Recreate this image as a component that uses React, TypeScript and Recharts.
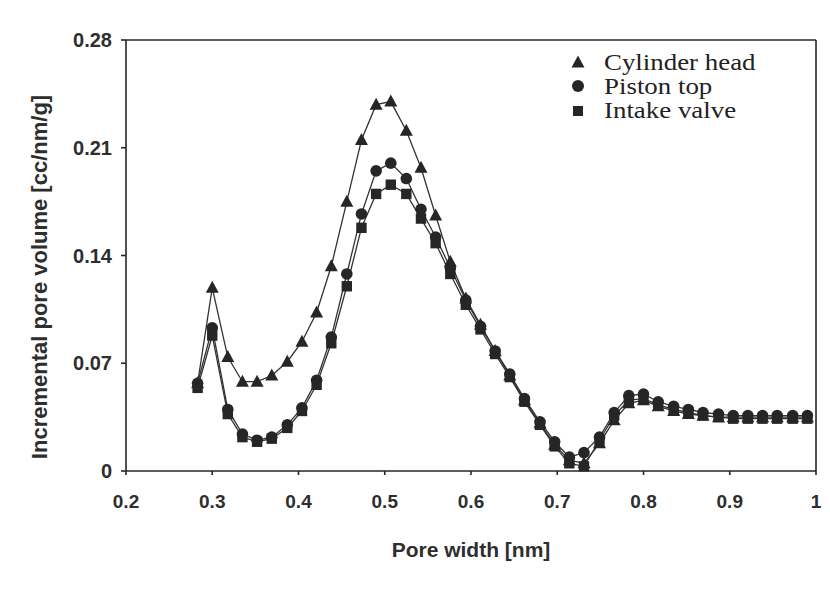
import React from "react";
import {
  LineChart,
  Line,
  XAxis,
  YAxis,
  ReferenceLine,
  Label,
} from "recharts";

// pore widths (nm), shared by all three samples
const poreWidth = [
  0.283, 0.3, 0.318, 0.335, 0.352, 0.369, 0.387, 0.404, 0.421, 0.438, 0.456,
  0.473, 0.49, 0.507, 0.525, 0.542, 0.559, 0.576, 0.594, 0.611, 0.628, 0.645,
  0.662, 0.68, 0.697, 0.714, 0.731, 0.749, 0.766, 0.783, 0.8, 0.817, 0.835,
  0.852, 0.869, 0.887, 0.904, 0.921, 0.938, 0.955, 0.973, 0.99,
];

const cylinderHead = [
  0.057, 0.119, 0.074, 0.058, 0.058, 0.062, 0.071, 0.084, 0.103, 0.133, 0.175,
  0.215, 0.238, 0.24, 0.221, 0.197, 0.166, 0.136, 0.112, 0.095, 0.078, 0.062,
  0.046, 0.031, 0.017, 0.007, 0.005, 0.018, 0.033, 0.044, 0.046, 0.042, 0.039,
  0.037, 0.036, 0.035, 0.035, 0.035, 0.035, 0.035, 0.035, 0.035,
];

const pistonTop = [
  0.057, 0.093, 0.04, 0.024, 0.02, 0.022, 0.03, 0.041, 0.059, 0.087, 0.128,
  0.167, 0.195, 0.2, 0.19, 0.17, 0.152, 0.132, 0.111, 0.094, 0.078, 0.063,
  0.047, 0.032, 0.019, 0.009, 0.012, 0.022, 0.038, 0.049, 0.05, 0.045, 0.042,
  0.04, 0.038, 0.037, 0.036, 0.036, 0.036, 0.036, 0.036, 0.036,
];

const intakeValve = [
  0.054, 0.088, 0.037, 0.022, 0.019, 0.021, 0.028, 0.039, 0.056, 0.083, 0.12,
  0.158, 0.18, 0.186, 0.18, 0.164, 0.148, 0.128, 0.108, 0.092, 0.076, 0.061,
  0.045, 0.03, 0.016, 0.005, 0.003, 0.02, 0.036, 0.046, 0.047, 0.043, 0.04,
  0.038, 0.036, 0.035, 0.034, 0.034, 0.034, 0.034, 0.034, 0.034,
];

const xTicks = [0.2, 0.3, 0.4, 0.5, 0.6, 0.7, 0.8, 0.9, 1];
const yTicks = [0, 0.07, 0.14, 0.21, 0.28];

const data = poreWidth.map((w, i) => ({
  w,
  cylinder: cylinderHead[i],
  piston: pistonTop[i],
  intake: intakeValve[i],
}));

const INK = "#262626";
const LINE = "#333";
const tickFont = {
  fontFamily: "'Liberation Sans', Arial, sans-serif",
  fontWeight: 700,
  fontSize: 19,
  fill: "#2e2e2e",
};

function triangleDot(props: any) {
  const { cx, cy, index } = props;
  if (cx == null || cy == null) return <g key={`t-${index}`} />;
  return (
    <path
      key={`t-${index}`}
      d={`M${cx},${cy - 7}L${cx - 6.5},${cy + 5}L${cx + 6.5},${cy + 5}Z`}
      fill={INK}
    />
  );
}

function circleDot(props: any) {
  const { cx, cy, index } = props;
  if (cx == null || cy == null) return <g key={`c-${index}`} />;
  return <circle key={`c-${index}`} cx={cx} cy={cy} r={5.8} fill={INK} />;
}

function squareDot(props: any) {
  const { cx, cy, index } = props;
  if (cx == null || cy == null) return <g key={`s-${index}`} />;
  return (
    <rect key={`s-${index}`} x={cx - 5.2} y={cy - 5.2} width={10.4} height={10.4} fill={INK} />
  );
}

const legendItems = [
  { label: "Cylinder head", shape: "triangle" },
  { label: "Piston top", shape: "circle" },
  { label: "Intake valve", shape: "square" },
];

function LegendBox() {
  return (
    <div
      style={{
        position: "absolute",
        top: 42,
        left: 560,
        fontFamily: "'Liberation Serif', 'Times New Roman', serif",
        fontSize: 24,
        color: "#222",
        lineHeight: "24px",
      }}
    >
      {legendItems.map((it) => (
        <div key={it.label} style={{ display: "flex", alignItems: "center", height: 24 }}>
          <svg width={20} height={16} style={{ marginRight: 16 }}>
            {it.shape === "triangle" && <path d="M10,1.5L3.5,13.5L16.5,13.5Z" fill={INK} />}
            {it.shape === "circle" && <circle cx={10} cy={8} r={6} fill={INK} />}
            {it.shape === "square" && <rect x={5} y={4} width={10} height={10} fill={INK} />}
          </svg>
          <span style={{ display: "inline-block", transform: "scaleX(1.12)", transformOrigin: "left center" }}>
            {it.label}
          </span>
        </div>
      ))}
    </div>
  );
}

function YTitle() {
  return (
    <text
      x={31}
      y={269}
      transform="rotate(-90 31 269)"
      textAnchor="middle"
      dominantBaseline="central"
      style={{ ...tickFont, fontSize: 22 }}
    >
      Incremental pore volume [cc/nm/g]
    </text>
  );
}

export default function App() {
  return (
    <div style={{ position: "relative", width: 814, height: 583, background: "#fff" }}>
      <LineChart
        width={814}
        height={583}
        data={data}
        margin={{ top: 32, right: 6, left: 38, bottom: 80 }}
      >
        <XAxis
          dataKey="w"
          type="number"
          domain={[0.2, 1]}
          ticks={xTicks}
          tickFormatter={(v: number) => (v === 1 ? "1" : v.toFixed(1))}
          tick={tickFont}
          tickSize={4}
          tickMargin={20}
          stroke={INK}
          strokeWidth={1.6}
          height={40}
          allowDataOverflow
        >
          <Label
            value="Pore width [nm]"
            position="bottom"
            offset={31}
            style={{ ...tickFont, fontSize: 21 }}
          />
        </XAxis>
        <YAxis
          type="number"
          domain={[0, 0.28]}
          ticks={yTicks}
          tickFormatter={(v: number) => (v === 0 ? "0" : v.toFixed(2))}
          tick={{ ...tickFont, fontSize: 20 }}
          tickSize={5}
          tickMargin={9}
          stroke={INK}
          strokeWidth={1.6}
          width={80}
        >
          <Label content={YTitle} />
        </YAxis>
        <ReferenceLine y={0.28} stroke={INK} strokeWidth={1.6} ifOverflow="visible" />
        <ReferenceLine x={1} stroke={INK} strokeWidth={1.6} ifOverflow="visible" />
        <Line
          dataKey="cylinder"
          name="Cylinder head"
          stroke={LINE}
          strokeWidth={1.3}
          dot={triangleDot}
          isAnimationActive={false}
        />
        <Line
          dataKey="piston"
          name="Piston top"
          stroke={LINE}
          strokeWidth={1.3}
          dot={circleDot}
          isAnimationActive={false}
        />
        <Line
          dataKey="intake"
          name="Intake valve"
          stroke={LINE}
          strokeWidth={1.3}
          dot={squareDot}
          isAnimationActive={false}
        />
      </LineChart>
      <LegendBox />
    </div>
  );
}
